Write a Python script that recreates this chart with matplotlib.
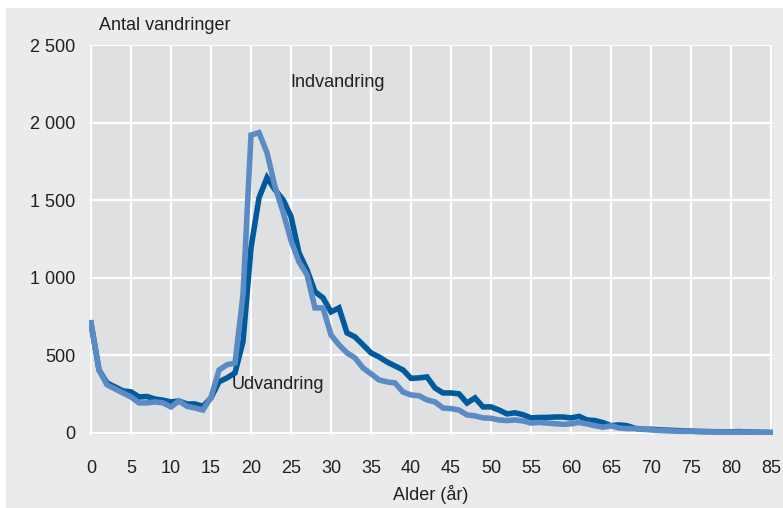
import matplotlib.pyplot as plt
from matplotlib.patches import Rectangle

plt.rcParams['font.family'] = ['Liberation Sans', 'DejaVu Sans']

ages = list(range(0, 86))

# Udvandring (dark line)
udvandring = [709, 406, 322, 297, 271, 265, 232, 235, 219, 211,
              200, 206, 187, 187, 172, 226, 330, 355, 387, 590,
              1193, 1515, 1645, 1567, 1503, 1395, 1161, 1051, 910, 871,
              780, 806, 645, 619, 568, 516, 490, 458, 432, 406,
              352, 355, 361, 290, 258, 258, 252, 193, 226, 168,
              168, 148, 123, 130, 118, 97, 100, 100, 103, 103,
              97, 107, 84, 80, 67, 47, 52, 47, 30, 24,
              24, 20, 18, 16, 14, 12, 10, 9, 8, 8,
              7, 9, 6, 5, 4, 3]

# Indvandring (light line)
indvandring = [709, 406, 310, 284, 258, 232, 194, 194, 200, 194,
               168, 206, 172, 161, 148, 230, 405, 440, 450, 890,
               1920, 1935, 1806, 1587, 1425, 1240, 1103, 1019, 806, 806,
               632, 568, 516, 484, 419, 381, 342, 329, 322, 264,
               245, 240, 213, 200, 161, 157, 148, 116, 110, 97,
               95, 84, 80, 84, 78, 64, 68, 64, 60, 56,
               59, 68, 58, 47, 37, 47, 32, 28, 28, 24,
               20, 16, 14, 12, 11, 10, 9, 8, 7, 7,
               6, 6, 5, 4, 4, 3]

xticks = list(range(0, 86, 5))
yticks = [0, 500, 1000, 1500, 2000, 2500]
ytick_labels = ['0', '500', '1 000', '1 500', '2 000', '2 500']

fig = plt.figure(figsize=(7.83, 5.08), dpi=100, facecolor='white')
fig.patches.append(Rectangle((6 / 783, 0), 1, 1 - 8 / 508, transform=fig.transFigure,
                             facecolor='#ebebec', edgecolor='none', zorder=-10))

ax = fig.add_axes([89 / 783, (508 - 435) / 508, (773 - 89) / 783, (435 - 45) / 508])
ax.set_facecolor('#dfe0e2')

ax.plot(ages, udvandring, color='#005a9c', lw=4, solid_joinstyle='miter', zorder=3)
ax.plot(ages, indvandring, color='#5b8bc4', lw=4, solid_joinstyle='miter', zorder=4)

ax.set_xlim(-0.25, 85.25)
ax.set_ylim(-13, 2500)
ax.set_xticks(xticks)
ax.set_yticks(yticks)
ax.set_yticklabels(ytick_labels)
ax.grid(True, color='white', lw=1.6)
ax.set_axisbelow(True)
for s in ax.spines.values():
    s.set_visible(False)
ax.tick_params(length=0, labelsize=13, colors='#231f20')
ax.tick_params(axis='y', pad=10)
ax.tick_params(axis='x', pad=18)

ax.set_xlabel('Alder (år)', fontsize=13, color='#231f20', labelpad=6)
fig.text(99 / 783, 1 - 25 / 508, 'Antal vandringer', fontsize=13, color='#231f20',
         va='center', ha='left')

ax.text(30.8, 2257, 'Indvandring', fontsize=13, color='#231f20', ha='center', va='center')
ax.text(17.6, 310, 'Udvandring', fontsize=13, color='#231f20', ha='left', va='center')

fig.savefig('out.png', dpi=100, facecolor=fig.get_facecolor())
